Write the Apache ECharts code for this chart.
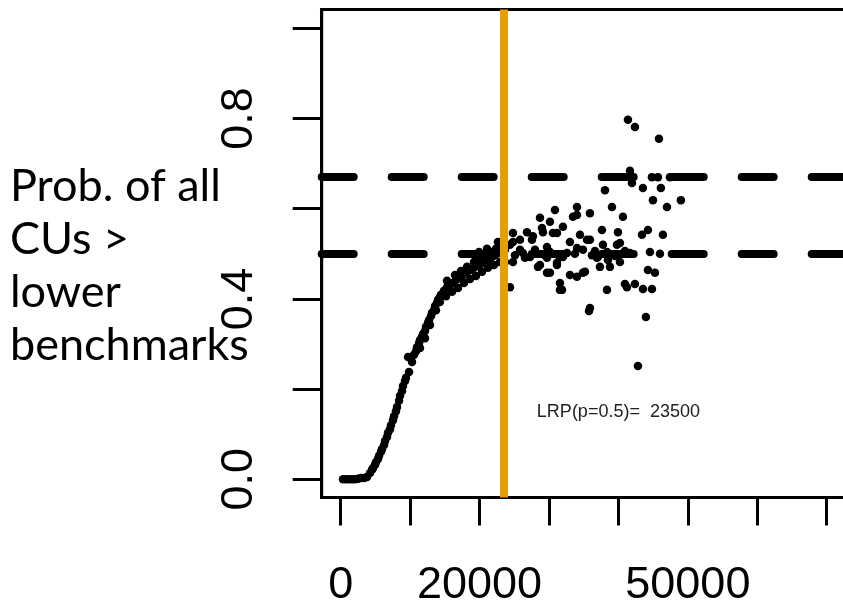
<!DOCTYPE html>
<html><head><meta charset="utf-8">
<script src="https://cdn.jsdelivr.net/npm/echarts@6/dist/echarts.min.js"></script>
<style>html,body{margin:0;padding:0;background:#fff}#c{width:843px;height:608px}</style>
</head><body><div id="c"></div>
<script>
// Escapement (x) and probability that all CUs are above lower benchmarks (y)
const probX = [
  330,760,1200,1630,2060,2490,2920,3360,3790,4220,4650,5080,5520,5950,6380,6810,7240,7680,8110,8540,
  8970,9400,9840,10270,10560,10990,11420,11850,12280,12720,13150,13580,14010,14440,14880,15310,15740,16170,16600,17040,
  17470,17900,18330,18760,19200,19630,20060,20490,20920,21360,21790,22220,22650,23080,
  4510,4940,5370,5800,6240,6670,7100,7530,7960,8400,8830,9260,10840,11280,11710,12140,12570,13000,13440,13870,14300,
  11420,12140,12860,13720,14280,15160,16030,16890,17750,18620,19480,20350,21210,22080,22940,
  15310,16460,17320,18190,19200,20060,20920,21640,22360,22790,21070,19920,9690,21500,22650,
  23660,23660,24380,24380,24810,24810,24810,25100,25820,25820,26250,26540,26830,27260,27550,27690,27980,28410,28700,28700,
  28990,29130,29420,29710,29710,29710,30140,30140,30140,30570,30860,31150,31150,31150,31580,31580,31580,31870,32010,32010,
  32590,33020,33020,33450,33740,34030,34030,34030,34030,34460,34890,34890,35180,35470,35760,35900,35900,35900,36190,36620,
  36910,37050,37340,37630,37770,38060,38350,38350,38490,38780,39070,39500,39790,39930,40220,40220,40650,40940,40940,41230,
  41370,41660,41660,41950,42380,42380,42810,43390,43530,43530,43960,44250,44250,44540,44830,44830,44970,45260,45690,45840,
  45980,46120,46410,46990,47420,49000
];
const probY = [
  0.000,0.000,0.000,0.000,0.000,0.001,0.003,0.003,0.005,0.014,0.025,0.038,0.052,0.067,0.085,0.103,0.120,0.140,0.160,0.185,
  0.207,0.225,0.238,0.260,0.276,0.293,0.309,0.322,0.338,0.353,0.369,0.384,0.398,0.409,0.418,0.426,0.431,0.435,0.442,0.446,
  0.451,0.458,0.462,0.464,0.469,0.473,0.477,0.480,0.484,0.489,0.493,0.497,0.502,0.506,
  0.021,0.032,0.045,0.061,0.076,0.094,0.111,0.131,0.151,0.174,0.196,0.218,0.284,0.302,0.316,0.329,0.347,0.362,0.375,0.391,0.404,
  0.291,0.313,0.342,0.375,0.393,0.406,0.416,0.424,0.435,0.444,0.451,0.460,0.469,0.475,0.482,
  0.440,0.453,0.462,0.471,0.482,0.489,0.496,0.504,0.511,0.522,0.511,0.504,0.271,0.486,0.526,
  0.482,0.509,0.520,0.426,0.546,0.526,0.482,0.497,0.531,0.509,0.502,0.491,0.548,0.493,0.531,0.539,0.509,0.471,0.580,0.475,
  0.557,0.548,0.497,0.515,0.491,0.458,0.571,0.504,0.458,0.546,0.597,0.546,0.480,0.475,0.493,0.435,0.420,0.420,0.560,0.493,
  0.502,0.526,0.453,0.582,0.500,0.604,0.586,0.513,0.449,0.542,0.509,0.458,0.460,0.531,0.373,0.590,0.380,0.531,0.497,0.506,
  0.491,0.493,0.471,0.553,0.520,0.641,0.504,0.420,0.486,0.471,0.604,0.495,0.520,0.548,0.524,0.482,0.582,0.506,0.433,0.426,
  0.797,0.684,0.502,0.657,0.781,0.433,0.251,0.542,0.646,0.422,0.360,0.553,0.464,0.504,0.670,0.422,0.619,0.458,0.670,0.755,
  0.500,0.646,0.542,0.604,0.670,0.619
];
const xTicks = [0,10000,20000,30000,40000,50000,60000,70000];
const xTickLabels = [0,20000,50000];
const yTicks = [0,0.2,0.4,0.6,0.8,1.0];
const yTickLabels = [0,0.4,0.8];
const benchmarkLines = [0.5, 0.665];
const lrpValue = 23500;
const lrpText = 'LRP(p=0.5)=  23500';
const lrpTextAt = [40000, 0.15];
const yTitleLines = ['Prob. of all','CUs >','lower','benchmarks'];

const points = probX.map((x,i)=>[x, probY[i]]);
const chart = echarts.init(document.getElementById('c'), null, {renderer:'canvas'});
const axisFont = 'Liberation Sans';
chart.setOption({
  animation:false,
  backgroundColor:'#fff',
  grid:{left:321.7, top:9.5, bottom:110.5, right:-30, show:true, borderColor:'#000', borderWidth:3, backgroundColor:'transparent', outerBoundsMode:'none', containLabel:false},
  xAxis:{type:'value', min:-2740, max:76670,
    axisLine:{show:true, onZero:false, lineStyle:{color:'#000', width:3}},
    axisTick:{show:true, customValues:xTicks, length:28, lineStyle:{color:'#000', width:3}},
    axisLabel:{show:true, customValues:xTickLabels, fontSize:45, fontFamily:axisFont, color:'#000', margin:66, formatter:v=>String(Math.round(v))},
    splitLine:{show:false}},
  yAxis:{type:'value', min:-0.0404, max:1.0417,
    axisLine:{show:true, onZero:false, lineStyle:{color:'#000', width:3}},
    axisTick:{show:true, customValues:yTicks, length:29, lineStyle:{color:'#000', width:3}},
    axisLabel:{show:true, customValues:yTickLabels, rotate:90, fontSize:45, fontFamily:axisFont, color:'#000', margin:60, formatter:v=>Number(v).toFixed(1)},
    splitLine:{show:false}},
  graphic: yTitleLines.map((t,i)=>({type:'text', x:10, y:186 + i*53.3, style:{text:t, fontSize:45, fontFamily:'Lato', fill:'#000', verticalAlign:'middle', align:'left'}})),
  series:[
    {type:'scatter', data:points, symbol:'circle', symbolSize:8.5, itemStyle:{color:'#000', opacity:1}, z:2},
    {type:'line', data:[], z:3,
      markLine:{silent:true, symbol:['none','none'], label:{show:false},
        lineStyle:{color:'#000', width:8, type:[32,38], dashOffset:0, cap:'round', opacity:1},
        data: benchmarkLines.map(v=>({yAxis:v}))}},
    {type:'line', data:[], z:4,
      markLine:{silent:true, symbol:['none','none'], label:{show:false},
        lineStyle:{color:'#E69F00', width:8, type:'solid', opacity:1},
        data:[{xAxis:lrpValue}]},
      markPoint:{symbol:'circle', symbolSize:1, itemStyle:{color:'rgba(0,0,0,0)'},
        label:{show:true, position:'inside', formatter:lrpText, fontSize:18, fontFamily:axisFont, color:'#222'},
        data:[{coord:lrpTextAt}]}}
  ]
});
</script></body></html>
